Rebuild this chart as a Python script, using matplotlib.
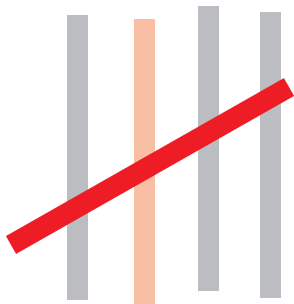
import matplotlib
matplotlib.use("Agg")
import matplotlib.pyplot as plt

# data
bar_x = [77.5, 144.5, 208.5, 270.5]
bar_bottom = [4, -2, 13, 6]
bar_top = [289, 285, 298, 292]
bar_colors = ["#BCBDC0", "#F9BFA5", "#BCBDC0", "#BCBDC0"]
line_x = [11, 289]
line_y = [59, 217]

fig = plt.figure(figsize=(2.94, 3.04), dpi=100)
ax = fig.add_axes([0, 0, 1, 1])
ax.set_xlim(0, 294)
ax.set_ylim(0, 304)
ax.axis("off")

heights = [t - b for t, b in zip(bar_top, bar_bottom)]
ax.bar(bar_x, heights, bottom=bar_bottom, width=21, color=bar_colors, zorder=1)
ax.plot(line_x, line_y, color="#EE1C24", linewidth=14.8, solid_capstyle="butt", zorder=2)

fig.savefig("out.png", dpi=100)
